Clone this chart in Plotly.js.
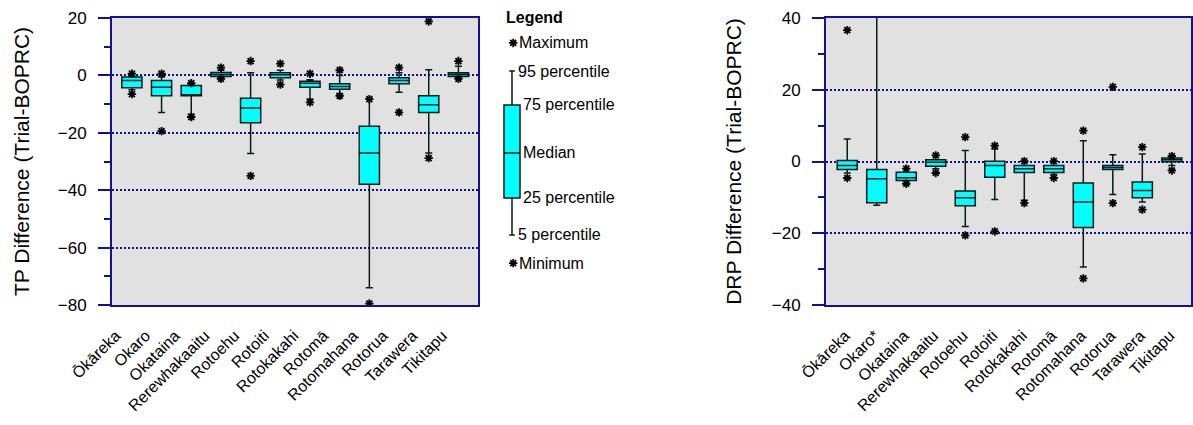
<!DOCTYPE html>
<html><head><meta charset="utf-8">
<script src="https://cdn.plot.ly/plotly-3.0.1.min.js"></script>
<style>html,body{margin:0;padding:0;background:#fff}#chart{width:1193px;height:425px}</style>
</head><body><div id="chart"></div>
<script>
// ---- Data ----
const lakes = ['Ōkāreka','Okaro','Okataina','Rerewhakaaitu','Rotoehu','Rotoiti','Rotokakahi','Rotomā','Rotomahana','Rotorua','Tarawera','Tikitapu'];
const drpLakes = ['Ōkāreka','Okaro*','Okataina','Rerewhakaaitu','Rotoehu','Rotoiti','Rotokakahi','Rotomā','Rotomahana','Rotorua','Tarawera','Tikitapu'];

// TP difference (Trial - BOPRC)
const tpMax    = [0.6, 0.6, -2.7, 2.7, 5.0, 4.1, 0.6, 1.8, -8.3, 2.7, 18.8, 5.0];
const tpP95    = [-0.3, -0.6, -3.3, 1.8, 0.9, 1.8, -1.5, 0.0, -8.3, 0.9, 2.0, 3.2];
const tpQ3     = [-0.6, -1.8, -3.5, 1.0, -8.0, 0.9, -2.0, -2.9, -17.7, -0.8, -7.1, 0.9];
const tpMedian = [-1.8, -4.1, -6.7, 0.35, -11.4, 0.2, -2.7, -3.9, -27.0, -1.8, -10.2, 0.35];
const tpQ1     = [-4.3, -7.1, -7.1, -0.35, -16.5, -0.8, -4.1, -4.8, -37.9, -2.9, -12.9, -0.35];
const tpP5     = [-5.0, -12.9, -13.5, -0.8, -27.2, -1.6, -8.2, -6.5, -74.0, -5.9, -27.0, -0.8];
const tpMin    = [-6.5, -19.4, -14.5, -1.2, -35.0, -3.2, -9.4, -7.1, -79.5, -12.9, -28.8, -1.2];

// DRP difference (Trial - BOPRC); Okaro maximum is off the scale
const drpMax    = [36.6, null, -2.0, 1.7, 6.8, 4.4, 0.1, 0.1, 8.6, 20.8, 4.0, 1.5];
const drpP95    = [6.3, 45, -3.0, 0.5, 3.1, 3.5, -1.1, -1.1, 5.8, 1.9, 2.1, 1.5];
const drpQ3     = [0.3, -2.2, -3.0, 0.5, -8.2, 0.1, -1.1, -1.1, -6.0, -1.1, -5.7, 1.0];
const drpMedian = [-1.1, -4.8, -4.5, -0.2, -10.1, -1.1, -2.0, -2.0, -11.3, -1.7, -8.1, 0.5];
const drpQ1     = [-2.2, -11.5, -5.3, -1.3, -12.3, -4.4, -3.1, -3.1, -18.4, -2.2, -10.1, -0.1];
const drpP5     = [-3.2, -12.2, -5.3, -2.0, -18.1, -10.6, -10.8, -3.6, -29.4, -9.2, -11.3, -1.1];
const drpMin    = [-4.6, null, -6.2, -3.2, -20.6, -19.5, -11.6, -4.6, -32.6, -11.6, -13.4, -2.5];

// Legend key glyph (arbitrary 0-100 scale)
const legendKeys   = ['Maximum','95 percentile','75 percentile','Median','25 percentile','5 percentile','Minimum'];
const legendValues = [91.3, 81.5, 69.7, 53.0, 37.3, 24.4, 14.6];

// ---- Styling ----
const FONT = 'Arial, "Liberation Sans", sans-serif';
const AX = '#12128f';
const BG = '#e1e1e1';
const W = 1193, H = 425, ML = 112, MR = 2, MT = 18, MB = 120;
const PW = W - ML - MR, PH = H - MT - MB;
const px = v => (v - ML) / PW;

function boxTrace(x, q1, med, q3, lo, hi, xa, ya, width) {
  return {type:'box', x:x, q1:q1, median:med, q3:q3, lowerfence:lo, upperfence:hi,
    xaxis:xa, yaxis:ya, boxpoints:false, fillcolor:'#00ffff',
    line:{color:'#0b1a1a', width:1.5}, whiskerwidth:0.35, width:width,
    hoverinfo:'skip', showlegend:false};
}
function starTrace(x, y, xa, ya) {
  return {type:'scatter', mode:'markers', x:x, y:y, xaxis:xa, yaxis:ya,
    marker:{symbol:'asterisk-open', size:7, color:'#000', line:{color:'#000', width:1.8}},
    hoverinfo:'skip', showlegend:false, cliponaxis:true};
}

const traces = [
  boxTrace(lakes, tpQ1, tpMedian, tpQ3, tpP5, tpP95, 'x', 'y', 0.68),
  starTrace(lakes, tpMax, 'x', 'y'),
  starTrace(lakes, tpMin, 'x', 'y'),
  boxTrace(drpLakes, drpQ1, drpMedian, drpQ3, drpP5, drpP95, 'x2', 'y2', 0.68),
  starTrace(drpLakes, drpMax, 'x2', 'y2'),
  starTrace(drpLakes, drpMin, 'x2', 'y2'),
  boxTrace([0], [legendValues[4]], [legendValues[3]], [legendValues[2]], [legendValues[5]], [legendValues[1]], 'x3', 'y3', 0.667),
  starTrace([0.05, 0.05], [legendValues[0], legendValues[6]], 'x3', 'y3')
];

const xCommon = {type:'category', showline:true, linecolor:AX, linewidth:2, mirror:true,
  ticks:'', tickangle:-45, tickfont:{family:FONT, size:16, color:'#000'}, ticklabelstandoff:13,
  showgrid:false, zeroline:false, fixedrange:true};
function yAxis(range, title, xa, standoff) {
  return {range:range, anchor:xa, domain:[0, 1], showline:true, linecolor:AX, linewidth:2, mirror:true,
    ticks:'outside', ticklen:12, tickwidth:2, tickcolor:AX, dtick:20, tick0:0,
    tickfont:{family:FONT, size:17, color:'#000'}, ticklabelstandoff:8,
    showgrid:true, gridcolor:AX, griddash:'2px,2px', gridwidth:2, zeroline:false,
    minor:{dtick:10, ticks:'outside', ticklen:6, tickwidth:2, tickcolor:AX, showgrid:false},
    title:{text:title, font:{family:FONT, size:21, color:'#000'}, standoff:standoff},
    fixedrange:true};
}

const legendLabelX = [518, 517, 522.5, 522.5, 522.5, 517, 518];
const annotations = [{xref:'paper', yref:'paper', x:px(504), y:(H - MB - 17) / PH, text:'<b>Legend</b>',
  xanchor:'left', yanchor:'middle', showarrow:false, font:{family:FONT, size:16, color:'#000'}}];
legendKeys.forEach((k, i) => annotations.push({xref:'paper', yref:'y3', x:px(legendLabelX[i]) - 0.001, y:legendValues[i],
  text:k, xanchor:'left', yanchor:'middle', showarrow:false, font:{family:FONT, size:16, color:'#000'}}));

const shapes = [
  {type:'rect', xref:'x domain', yref:'y domain', x0:0, x1:1, y0:0, y1:1, fillcolor:BG, line:{width:0}, layer:'below'},
  {type:'rect', xref:'x2 domain', yref:'y2 domain', x0:0, x1:1, y0:0, y1:1, fillcolor:BG, line:{width:0}, layer:'below'}
];

const layout = {
  width:W, height:H, margin:{l:ML, r:MR, t:MT, b:MB}, paper_bgcolor:'#fff', plot_bgcolor:'rgba(0,0,0,0)',
  showlegend:false, font:{family:FONT},
  xaxis: Object.assign({}, xCommon, {domain:[0, px(478.3)], range:[-0.67, 11.67], anchor:'y', ticklabelshift:-16}),
  yaxis: yAxis([-80, 20], 'TP Difference (Trial-BOPRC)', 'x', 22),
  xaxis2: Object.assign({}, xCommon, {domain:[px(826), 1], range:[-0.72, 11.65], anchor:'y2', ticklabelshift:-2}),
  yaxis2: yAxis([-40, 40], 'DRP Difference (Trial-BOPRC)', 'x2', 24),
  xaxis3: {domain:[px(500), px(524)], range:[-0.5, 0.5], visible:false, anchor:'y3', fixedrange:true},
  yaxis3: {domain:[0, 1], range:[0, 100], visible:false, anchor:'x3', fixedrange:true},
  annotations: annotations,
  shapes: shapes
};

Plotly.newPlot('chart', traces, layout, {staticPlot:true, displayModeBar:false});
</script>
</body></html>
